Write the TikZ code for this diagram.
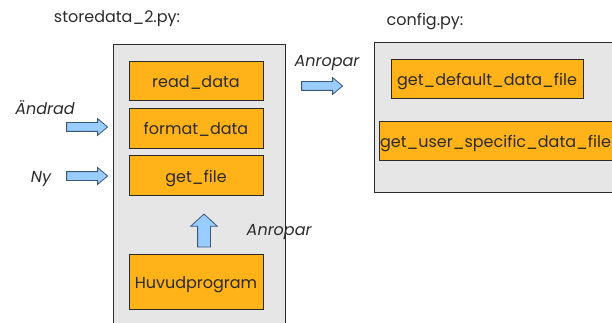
\documentclass[tikz,border=0pt]{standalone}
\usepackage{fontspec}
\setmainfont{Poppins}
\usetikzlibrary{shapes.arrows}

\definecolor{modgrey}{HTML}{E6E6E6}
\definecolor{funcorange}{HTML}{FFB319}
\definecolor{arrowblue}{HTML}{99CCFF}
\definecolor{arrowedge}{HTML}{3A5878}
\definecolor{ink}{HTML}{2B2B2B}

\tikzset{every picture/.style={line width=0.8pt}}
\tikzset{
  module/.style={draw=ink, fill=modgrey, anchor=north west, inner sep=0pt},
  func/.style={draw=ink, fill=funcorange, text=ink, inner sep=0pt,
                text height=14pt, text depth=0pt,
                minimum width=#1, font=\fontsize{16}{18}\selectfont},
  func/.default={134},
  callarrow/.style={single arrow, draw=arrowedge, fill=arrowblue,
                inner sep=4pt, single arrow head extend=4pt,
                single arrow tip angle=80, minimum height=41},
  label/.style={text=ink, font=\fontsize{16}{18}\selectfont},
  note/.style={text=ink, font=\fontsize{16}{18}\selectfont\itshape},
}

\begin{document}
\begin{tikzpicture}[x=1pt, y=-1pt]
  \clip (0,0) rectangle (612,323);
  % the two modules (both run past the page edge)
  \node[module, minimum width=172, minimum height=300] (store) at (113,44) {};
  \node[module, minimum width=266, minimum height=150] (config) at (374,42) {};
  \node[label] (storename) at (117,19) {storedata\_2.py:};
  \node[label] (configname) at (425,22) {config.py:};

  % functions in storedata_2.py
  \node[func, minimum height=39] (read) at (196,80.5) {read\_data};
  \node[func, minimum height=40] (format) at (196,128) {format\_data};
  \node[func, minimum height=40] (getfile) at (196,175) {get\_file};
  \node[func, minimum height=55] (main) at (196,281.5) {Huvudprogram};

  % functions in config.py
  \node[func=192, minimum height=39] (default) at (487,78.5) {get\_default\_data\_file};
  \node[func=233, minimum height=39] (user) at (495.5,140.5) {get\_user\_specific\_data\_file};

  % block arrows and their notes
  \node[callarrow] (changed) at (84.5,127) {};
  \node[note] at (45,108) {Ändrad};
  \node[callarrow] (new) at (84.5,176) {};
  \node[note] at (41,179) {Ny};
  \node[callarrow] (calls) at (319.5,86) {};
  \node[note] at (327,63) {Anropar};
  \node[callarrow, inner sep=6pt, single arrow head extend=7pt,
        single arrow tip angle=95, minimum height=33,
        shape border rotate=90] (up) at (204,233.5) {};
  \node[note, anchor=west] at (243,232) {Anropar};
\end{tikzpicture}
\end{document}
